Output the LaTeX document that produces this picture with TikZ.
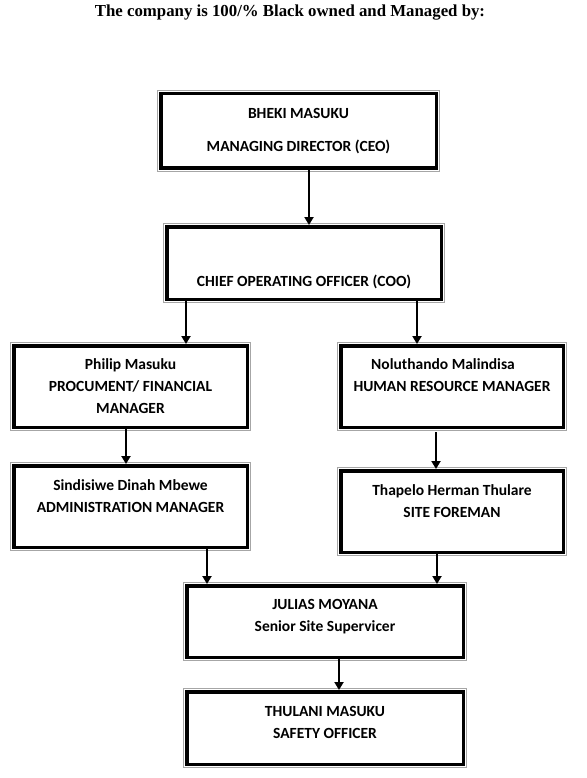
\documentclass[tikz,border=0pt]{standalone}
\usepackage{fontspec}
\setmainfont{Carlito}
\newfontfamily\titlefont{Liberation Serif}
\usetikzlibrary{arrows.meta}
\tikzset{orgbox/.style={draw,line width=3.5pt,fill=white,align=center,inner sep=0pt,
    preaction={draw,gray!70,line width=7.5pt},
    preaction={draw,white,line width=5.5pt}}}
\tikzset{link/.style={line width=2.7pt,-{Triangle[width=9pt,length=8pt]}}}

\begin{document}
\begin{tikzpicture}[x=1pt,y=-1pt]
                  \tikzstyle{every node}=[font=\fontsize{15.5}{22}\selectfont\bfseries]
                  \useasboundingbox (0,0) rectangle (586,778);
                  \node[font=\titlefont\fontsize{16.8}{20}\selectfont\bfseries] (title) at (290,13) {The company is 100/\% Black owned and Managed by:};
                  \node[orgbox,minimum width=275.5pt,minimum height=74.5pt] (ceo) at (298.5,131) {BHEKI MASUKU\\[11pt]MANAGING DIRECTOR (CEO)};
                  \node[orgbox,minimum width=274.5pt,minimum height=72.5pt] (coo) at (304,263) {\strut\\[12pt]CHIEF OPERATING OFFICER (COO)};
                  \node[orgbox,minimum width=233.5pt,minimum height=81.5pt] (phil) at (130.5,386.5) {Philip Masuku\\PROCUMENT/ FINANCIAL\\MANAGER};
                  \node[orgbox,minimum width=233.5pt,minimum height=81.5pt] (sindi) at (130.5,506.5) {Sindisiwe Dinah Mbewe\\ADMINISTRATION MANAGER\\[-8pt]\strut};
                  \node[orgbox,minimum width=222.5pt,minimum height=81.5pt] (nolu) at (452,386.5) {Noluthando Malindisa\hspace*{18pt}\\HUMAN RESOURCE MANAGER\\[-6pt]\strut};
                  \node[orgbox,minimum width=222.5pt,minimum height=81.5pt] (thap) at (452,511.5) {Thapelo Herman Thulare\\SITE FOREMAN\\[-8pt]\strut};
                  \node[orgbox,minimum width=276.5pt,minimum height=71.5pt] (jul) at (325,621.5) {JULIAS MOYANA\\Senior Site Supervicer\\[-17pt]\strut};
                  \node[orgbox,minimum width=276.5pt,minimum height=72.5pt] (thul) at (325,728) {THULANI MASUKU\\SAFETY OFFICER\\[-17pt]\strut};
                  \draw[link] ([xshift=10.5pt]ceo.south) coordinate (c1) -- (c1 |- coo.north);
                  \draw[link] ([xshift=-118pt]coo.south) coordinate (c2) -- (c2 |- phil.north);
                  \draw[link] ([xshift=113pt]coo.south) coordinate (c3) -- (c3 |- nolu.north);
                  \draw[link] ([xshift=-4.5pt]phil.south) coordinate (c4) -- (c4 |- sindi.north);
                  \draw[link] ([xshift=-16pt,yshift=-3pt]nolu.south) coordinate (c5) -- (c5 |- thap.north);
                  \draw[link] ([xshift=76.5pt]sindi.south) coordinate (c6) -- (c6 |- jul.north);
                  \draw[link] ([xshift=-15pt]thap.south) coordinate (c7) -- (c7 |- jul.north);
                  \draw[link] ([xshift=14pt]jul.south) coordinate (c8) -- (c8 |- thul.north);
              \end{tikzpicture}
\end{document}
